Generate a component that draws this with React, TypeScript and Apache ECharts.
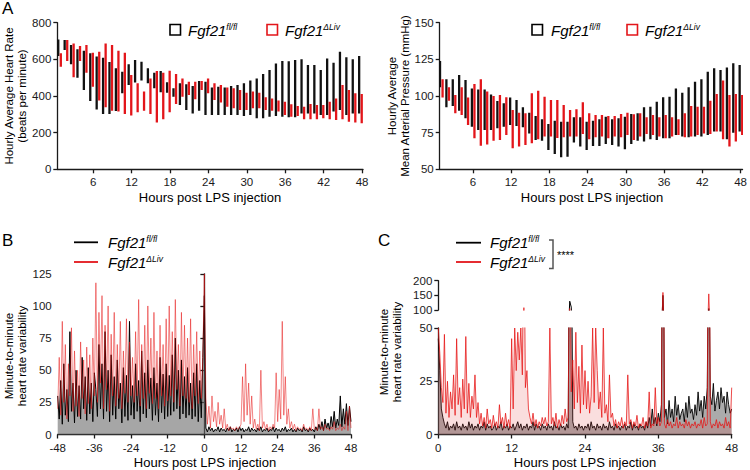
import React, { useEffect, useRef } from "react";
import * as echarts from "echarts";

const FONT = "Arial, 'Liberation Sans', Helvetica, sans-serif";

// ---------- Panel A: hourly ranges ----------
const hours = [1,2,3,4,5,6,7,8,9,10,11,12,13,14,15,16,17,18,19,20,21,22,23,24,25,26,27,28,29,30,31,32,33,34,35,36,37,38,39,40,41,42,43,44,45,46,47,48];
const hourTicks = [6, 12, 18, 24, 30, 36, 42, 48];

const hrBlackLow = [618,651,573,500,433,373,327,302,302,318,415,460,473,484,469,442,420,418,396,351,324,305,320,296,296,296,296,296,296,291,296,278,278,287,291,287,284,284,305,305,305,296,296,315,324,296,305,305];
const hrBlackHigh = [708,705,678,655,647,633,615,609,585,551,533,573,596,587,551,527,536,475,442,469,464,455,482,478,447,451,447,455,460,469,484,495,520,542,578,591,589,596,600,569,569,542,605,582,642,611,600,618];
const hrRedLow = [560,591,502,591,527,451,375,338,320,315,302,293,311,320,302,255,273,311,356,396,405,382,433,415,378,364,342,333,324,324,333,333,324,320,315,296,287,291,273,273,273,278,273,269,273,260,255,251];
const hrRedHigh = [633,705,687,673,678,636,642,687,678,647,636,515,469,424,496,536,527,538,520,496,478,478,482,496,469,460,447,442,433,418,424,418,393,387,375,369,355,345,342,356,351,351,369,387,460,433,415,411];

const mapBlackLow = [105.9,92.3,93.2,90,84.8,79.1,76.8,76.8,76.8,78,79.1,80.2,79.5,78.6,74.5,70,69.5,63.2,60.5,58.2,58.6,68.2,65.5,63.2,65.9,65.9,67.3,66.6,65.5,63.6,67.3,69.5,68.9,70.5,70,71.1,71.1,73.4,72.3,71.8,72.3,72.3,73.4,75.7,75.7,70.5,75,75.7];
const mapBlackHigh = [123.9,111.4,111.4,114.3,110.9,105.2,104.5,104.5,101.1,96.6,95,98.9,97.3,92.3,88.6,86.4,84.1,80.9,83.2,82.5,82.5,85.5,85.5,82.5,83.2,84.1,85.9,84.1,84.8,85.9,87.7,88.2,92.3,92.7,96.1,99.1,99.5,105.2,102.3,105.9,109.8,111.4,116.6,118.9,117.7,119.5,122.3,121.1];
const mapRedLow = [98.9,96.8,88.2,87,80.2,71.1,66.1,67,69.5,70,73.4,64.3,65.5,66.6,67.7,70.5,72.3,72.3,71.4,71.8,72.3,72.3,74.1,70.5,71.8,72.3,71.1,72.3,71.8,73.4,70,72.3,74.1,73.4,72.3,71.1,72.3,73.4,71.8,72.3,73.4,74.5,74.1,75.7,70.5,65.5,68.9,73.4];
const mapRedHigh = [111.4,105.9,100.7,105.9,98.9,108.2,111.4,103,100,100.7,99.1,90.5,88.6,88.2,101.8,103.6,99.5,97.3,97.3,93.9,90.5,90.9,95.7,88.2,87,87,86.4,86.4,87.7,88.6,87.5,88.2,85.5,87,85.5,87,85.5,84.1,88.2,93.2,92.7,92.7,96.8,101.4,110.5,100.7,101.4,100.7];

// ---------- Panel B: -48..48 h, 30-min samples ----------
const bStart = -48;
const bStep = 0.5;
const bBlack = [
  30,12,42,8,55,15,35,10,80,18,40,9,50,14,38,12,60,20,45,11,52,16,40,10,48,
  35,14,70,20,55,12,80,18,50,10,62,15,45,12,58,20,40,9,52,14,46,11,88,15,
  38,12,55,18,42,10,65,16,48,13,58,20,44,11,52,15,40,10,60,17,47,12,55,14,
  46,15,62,18,75,20,50,12,58,16,45,13,52,15,40,12,48,14,55,10,42,13,60,108,
  5,2,6,3,5,2,4,3,6,2,5,3,4,2,5,3,6,2,4,3,5,2,6,3,
  5,2,4,3,6,2,5,3,4,2,5,3,6,2,4,3,5,2,4,3,6,2,5,3,
  4,2,5,3,6,2,4,3,5,2,4,2,5,3,4,2,6,3,4,2,5,3,4,2,
  6,3,8,4,10,3,12,5,9,4,14,6,18,5,12,7,30,6,20,8,24,7,22,10
];
const bRed = [
  20,60,15,88,25,70,12,55,30,83,18,65,22,50,14,72,28,58,16,68,24,62,20,75,30,
  118,25,95,40,108,20,85,35,100,18,78,30,95,22,70,28,88,20,65,32,90,25,72,30,
  60,25,80,30,105,22,70,28,85,20,100,32,75,24,95,28,65,20,85,30,70,22,90,26,
  100,30,80,25,105,35,70,22,95,30,85,28,75,25,90,20,70,30,80,24,65,28,60,125,
  28,8,22,5,30,10,18,6,25,8,15,5,20,4,8,3,6,4,5,3,6,4,5,8,
  45,10,55,15,40,8,30,5,12,4,8,3,50,5,10,4,8,3,6,4,8,5,48,10,
  35,12,88,15,45,8,20,5,10,4,8,3,6,4,5,3,8,4,5,3,6,3,20,4,
  5,3,20,4,6,3,8,4,5,3,6,4,10,3,5,4,8,3,6,4,18,3,22,5
];

// ---------- Panel C: 0..48 h, 15-min samples ----------
const cStart = 0;
const cStep = 0.25;
const cBlack = [
  45,30,12,8,5,3,6,2,4,3,5,2,6,3,4,2,5,3,4,2,6,3,5,2,
  4,3,5,2,4,3,6,2,5,3,4,2,3,5,2,4,3,6,2,4,3,5,2,4,
  3,5,2,4,6,3,5,2,4,3,5,2,4,3,6,2,5,3,4,2,5,3,4,2,
  5,3,4,2,6,3,4,2,5,3,4,2,5,3,130,110,6,3,4,2,5,3,4,2,
  4,3,5,2,6,3,4,2,5,3,4,2,5,3,4,2,6,3,4,2,5,3,4,2,
  4,3,5,2,4,3,6,2,5,3,4,2,5,3,4,2,6,3,8,4,12,5,8,4,
  10,6,14,150,8,12,5,16,8,12,6,18,9,14,7,10,12,6,15,8,18,10,12,7,
  14,9,20,11,16,8,18,12,22,105,18,14,24,11,16,20,12,22,15,18,10,20,14,10,12
];
const cRed = [
  50,38,22,15,47,10,25,8,20,12,28,9,45,14,22,8,26,12,46,10,24,8,18,12,
  28,8,15,5,10,4,8,3,12,5,7,3,9,4,6,3,14,5,8,3,10,4,7,3,
  45,12,50,30,48,35,50,28,108,22,30,12,8,5,10,4,7,3,6,4,8,5,8,4,
  6,50,5,8,4,10,3,7,4,9,5,12,6,8,105,20,35,12,48,15,32,10,42,14,
  30,12,25,10,18,50,15,50,30,12,20,8,50,10,14,6,28,8,10,4,7,3,6,4,
  8,3,6,4,28,5,7,3,6,4,9,3,5,4,8,3,6,4,20,3,5,4,22,5,
  8,4,6,160,5,3,7,4,6,3,5,4,8,3,6,4,5,3,7,4,6,3,5,4,
  6,3,5,4,7,3,8,4,5,155,6,3,5,4,7,3,6,4,5,3,8,4,6,3,22
];

const toXY = (vals: number[], start: number, step: number) =>
  vals.map((v, i) => [start + i * step, v]);

const AX = "#1a1a1a";
const axisLine = { show: true, lineStyle: { color: AX, width: 1.3 } };
const axisTick = { show: true, length: 4, lineStyle: { color: AX, width: 1.3 } };
const xLabel = { color: AX, fontSize: 11.5, fontFamily: FONT, margin: 7 };
const yLabel = { color: AX, fontSize: 11.5, fontFamily: FONT, margin: 6 };

function rangeBars(xi: number, yi: number, lows: number[], highs: number[], offset: number, color: string) {
  return {
    type: "custom",
    xAxisIndex: xi,
    yAxisIndex: yi,
    clip: true,
    encode: { x: 0, y: [1, 2] },
    data: hours.map((h, i) => [h + offset, lows[i], highs[i]]),
    renderItem: (_p: any, api: any) => {
      const x = api.value(0);
      const top = api.coord([x, api.value(2)]);
      const bot = api.coord([x, api.value(1)]);
      return {
        type: "rect",
        shape: { x: top[0] - 1.15, y: top[1], width: 2.3, height: bot[1] - top[1] },
        style: { fill: color },
      };
    },
  };
}

const rich = {
  i: { fontSize: 15, fontStyle: "italic", fontFamily: FONT, fill: "#000", color: "#000" },
  s: { fontSize: 8.5, fontStyle: "italic", fontFamily: FONT, fill: "#000", color: "#000", verticalAlign: "top" },
};
const legendText = (x: number, y: number, sup: string) => ({
  type: "text",
  x,
  y,
  style: { text: `{i|Fgf21}{s|${sup}}`, rich, textVerticalAlign: "middle", verticalAlign: "middle" },
});
const title = (x: number, y: number, text: string, size: number, rotate = false) => ({
  type: "text",
  x,
  y,
  rotation: rotate ? Math.PI / 2 : 0,
  style: {
    text,
    font: `${size}px ${FONT}`,
    fill: "#000",
    align: "center",
    verticalAlign: "middle",
    textAlign: "center",
    textVerticalAlign: "middle",
    lineHeight: size + 1.5,
  },
});

const option: any = {
  animation: false,
  backgroundColor: "#fff",
  textStyle: { fontFamily: FONT },
  grid: [
    { left: 57.3, top: 22.7, width: 305.7, height: 146.6 },
    { left: 439.7, top: 22.7, width: 306, height: 146.6 },
    { left: 57.7, top: 273.8, width: 293.3, height: 160.7 },
    { left: 438.3, top: 280.7, width: 293.4, height: 29.3 },
    { left: 438.3, top: 328, width: 293.4, height: 106.5 },
  ],
  xAxis: [
    { type: "value", gridIndex: 0, min: 0.4, max: 48.15, axisLine, splitLine: { show: false },
      axisTick: { ...axisTick, customValues: hourTicks }, axisLabel: { ...xLabel, customValues: hourTicks } },
    { type: "value", gridIndex: 1, min: 0.8, max: 48.3, axisLine, splitLine: { show: false },
      axisTick: { ...axisTick, customValues: hourTicks }, axisLabel: { ...xLabel, customValues: hourTicks } },
    { type: "value", gridIndex: 2, min: -48, max: 48, interval: 12, axisLine, axisTick, axisLabel: xLabel, splitLine: { show: false } },
    { type: "value", gridIndex: 3, min: 0, max: 48, show: false, splitLine: { show: false } },
    { type: "value", gridIndex: 4, min: 0, max: 48, interval: 12, axisLine, axisTick, axisLabel: xLabel, splitLine: { show: false } },
  ],
  yAxis: [
    { type: "value", gridIndex: 0, min: 0, max: 800, interval: 200, axisLine, axisTick, axisLabel: yLabel, splitLine: { show: false } },
    { type: "value", gridIndex: 1, min: 50, max: 150, interval: 25, axisLine, axisTick, axisLabel: yLabel, splitLine: { show: false } },
    { type: "value", gridIndex: 2, min: 0, max: 125, interval: 25, axisLine, axisTick, axisLabel: yLabel, splitLine: { show: false } },
    { type: "value", gridIndex: 3, min: 100, max: 200, interval: 50, axisLine, axisTick, axisLabel: yLabel, splitLine: { show: false } },
    { type: "value", gridIndex: 4, min: 0, max: 50, interval: 25, axisLine, axisTick, axisLabel: yLabel, splitLine: { show: false } },
  ],
  series: [
    rangeBars(0, 0, hrBlackLow, hrBlackHigh, -0.45, "#111"),
    rangeBars(0, 0, hrRedLow, hrRedHigh, -0.05, "#e3151a"),
    rangeBars(1, 1, mapBlackLow, mapBlackHigh, -0.15, "#111"),
    rangeBars(1, 1, mapRedLow, mapRedHigh, 0.25, "#e3151a"),
    // Panel B
    { type: "line", xAxisIndex: 2, yAxisIndex: 2, data: toXY(bBlack, bStart, bStep), showSymbol: false, symbol: "none",
      lineStyle: { color: "#000", width: 1 }, areaStyle: { color: "rgba(105,105,105,0.85)" }, z: 2 },
    { type: "line", xAxisIndex: 2, yAxisIndex: 2, data: toXY(bRed, bStart, bStep), showSymbol: false, symbol: "none",
      lineStyle: { color: "rgba(230,20,20,0.65)", width: 0.8 }, z: 3 },
    // Panel C upper
    { type: "line", xAxisIndex: 3, yAxisIndex: 3, data: toXY(cBlack, cStart, cStep), showSymbol: false, symbol: "none",
      lineStyle: { color: "#000", width: 1 }, z: 2 },
    { type: "line", xAxisIndex: 3, yAxisIndex: 3, data: toXY(cRed, cStart, cStep), showSymbol: false, symbol: "none",
      lineStyle: { color: "rgba(230,20,20,0.75)", width: 1 }, z: 3 },
    // Panel C lower
    { type: "line", xAxisIndex: 4, yAxisIndex: 4, data: toXY(cBlack, cStart, cStep), showSymbol: false, symbol: "none",
      lineStyle: { color: "#000", width: 0.9 }, areaStyle: { color: "rgba(105,105,105,0.8)" }, z: 2 },
    { type: "line", xAxisIndex: 4, yAxisIndex: 4, data: toXY(cRed, cStart, cStep), showSymbol: false, symbol: "none",
      lineStyle: { color: "rgba(230,20,20,0.85)", width: 0.9 }, areaStyle: { color: "rgba(225,40,40,0.22)" }, z: 3 },
  ],
  graphic: [
    { type: "text", x: 2, y: 0, style: { text: "A", font: `17px ${FONT}`, fill: "#000", verticalAlign: "top", textVerticalAlign: "top" } },
    { type: "text", x: 2, y: 232, style: { text: "B", font: `17px ${FONT}`, fill: "#000", verticalAlign: "top", textVerticalAlign: "top" } },
    { type: "text", x: 378, y: 232, style: { text: "C", font: `17px ${FONT}`, fill: "#000", verticalAlign: "top", textVerticalAlign: "top" } },
    // legends A
    { type: "rect", shape: { x: 170, y: 24.5, width: 10.5, height: 10.5 }, style: { fill: "none", stroke: "#000", lineWidth: 1.6 } },
    legendText(188, 30, "fl/fl"),
    { type: "rect", shape: { x: 267, y: 24.5, width: 10.5, height: 10.5 }, style: { fill: "none", stroke: "#e3151a", lineWidth: 1.6 } },
    legendText(285, 30, "ΔLiv"),
    { type: "rect", shape: { x: 532, y: 24.5, width: 10.5, height: 10.5 }, style: { fill: "none", stroke: "#000", lineWidth: 1.6 } },
    legendText(551, 30, "fl/fl"),
    { type: "rect", shape: { x: 627, y: 24.5, width: 10.5, height: 10.5 }, style: { fill: "none", stroke: "#e3151a", lineWidth: 1.6 } },
    legendText(645, 30, "ΔLiv"),
    // legends B
    { type: "line", shape: { x1: 74, y1: 242.3, x2: 98, y2: 242.3 }, style: { stroke: "#000", lineWidth: 1.8 } },
    legendText(108, 242, "fl/fl"),
    { type: "line", shape: { x1: 74, y1: 262, x2: 98, y2: 262 }, style: { stroke: "#e3151a", lineWidth: 1.8 } },
    legendText(108, 262, "ΔLiv"),
    // legends C
    { type: "line", shape: { x1: 456, y1: 242.7, x2: 481, y2: 242.7 }, style: { stroke: "#000", lineWidth: 1.8 } },
    legendText(490, 242, "fl/fl"),
    { type: "line", shape: { x1: 456, y1: 262, x2: 481, y2: 262 }, style: { stroke: "#e3151a", lineWidth: 1.8 } },
    legendText(490, 262, "ΔLiv"),
    { type: "polyline", shape: { points: [[549, 240], [553, 240], [553, 268.5], [549, 268.5]] }, style: { fill: "none", stroke: "#555", lineWidth: 1.5 } },
    { type: "text", x: 557, y: 255, style: { text: "****", font: `11px ${FONT}`, fill: "#000", verticalAlign: "middle", textVerticalAlign: "middle" } },
    // axis titles
    title(210, 197.5, "Hours post LPS injection", 13),
    title(592, 197.5, "Hours post LPS injection", 13),
    title(205, 462, "Hours post LPS injection", 13),
    title(585, 462, "Hours post LPS injection", 13),
    title(15, 96, "Hourly Average Heart Rate\n(beats per minute)", 11.5, true),
    title(398, 96, "Hourly Average\nMean Arterial Pressure (mmHg)", 11.5, true),
    title(15, 356, "Minute-to-minute\nheart rate variability", 11.5, true),
    title(390, 352, "Minute-to-minute\nheart rate variability", 11.5, true),
  ],
};

export default function App() {
  const ref = useRef<HTMLDivElement>(null);
  useEffect(() => {
    if (!ref.current) return;
    const chart = echarts.init(ref.current, null, { renderer: "svg" });
    chart.setOption(option);
    return () => chart.dispose();
  }, []);
  return (
    <div
      ref={ref}
      style={{ position: "fixed", left: 0, top: 0, width: 750, height: 470, background: "#fff" }}
    />
  );
}
